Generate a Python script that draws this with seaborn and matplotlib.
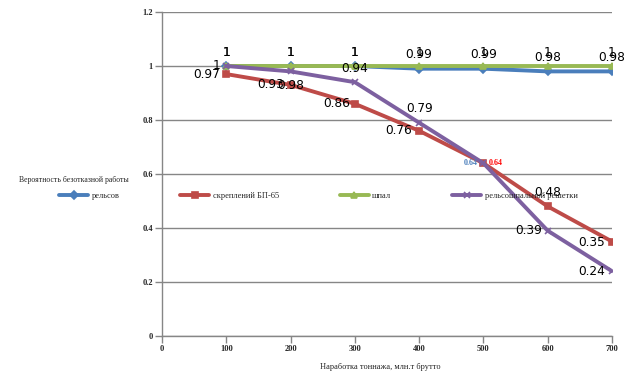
import matplotlib
matplotlib.use("Agg")
import numpy as np
import pandas as pd
import matplotlib.pyplot as plt
import seaborn as sns

# data
tonnage = [100, 200, 300, 400, 500, 600, 700]
rails = [1, 1, 1, 0.99, 0.99, 0.98, 0.98]
fasteners = [0.97, 0.93, 0.86, 0.76, 0.64, 0.48, 0.35]
sleepers = [1, 1, 1, 1, 1, 1, 1]
track = [1, 0.98, 0.94, 0.79, 0.64, 0.39, 0.24]

series_names = ["рельсов", "скреплений БП-65", "шпал", "рельсошпальной решетки"]
series_values = [rails, fasteners, sleepers, track]
colors = ["#4A7EBB", "#BE4B48", "#98B954", "#7D60A0"]
marker_styles = ["D", "s", "^", "x"]

x_ticks = [0, 100, 200, 300, 400, 500, 600, 700]
y_ticks = [0, 0.2, 0.4, 0.6, 0.8, 1, 1.2]
y_tick_labels = ["0", "0.2", "0.4", "0.6", "0.8", "1", "1.2"]

sns.set_style("white")
plt.rcParams['font.family'] = ['DejaVu Sans']

fig = plt.figure(figsize=(6.31, 3.92), dpi=100)
ax = fig.add_axes([162 / 631, 1 - 336 / 392, 450 / 631, 324 / 392])

for name, vals, col, mk in zip(series_names, series_values, colors, marker_styles):
    df = pd.DataFrame({"x": tonnage, "y": vals})
    sns.lineplot(data=df, x="x", y="y", color=col, marker=mk, label=name,
                 linewidth=2.8, markersize=4.2, markeredgewidth=1.2,
                 markeredgecolor=col, ax=ax)

handles, labels = ax.get_legend_handles_labels()
ax.get_legend().remove()

ax.set_xlim(0, 700)
ax.set_ylim(0, 1.2)
ax.set_xticks(x_ticks)
ax.set_yticks(y_ticks)
ax.set_yticklabels(y_tick_labels)
ax.set_xlabel("")
ax.set_ylabel("")
ax.yaxis.grid(True, color="#868686", linewidth=1)
ax.set_axisbelow(True)
for side in ["top", "right"]:
    ax.spines[side].set_visible(False)
for side in ["left", "bottom"]:
    ax.spines[side].set_color("#868686")
    ax.spines[side].set_linewidth(1)
ax.tick_params(axis="both", length=5, width=1, color="#868686", pad=1.5,
               direction="out", left=True, bottom=True)
for lbl in ax.get_xticklabels() + ax.get_yticklabels():
    lbl.set_fontfamily("Liberation Serif")
    lbl.set_fontsize(6)
    lbl.set_fontweight("bold")

# data labels: (dx, dy, ha) in points for every point of each series
label_offsets = {
    "рельсов": [(0, 10, "center")] * 7,
    "скреплений БП-65": [(-4.5, -0.5, "right"), (-5, 0, "right"), (-3.5, 0, "right"),
                         (-5, 0, "right"), None, (0, 10, "center"), (-5, -1, "right")],
    "шпал": [(0, 10, "center")] * 7,
    "рельсошпальной решетки": [(-4, 0, "right"), (0, -10, "center"), (0, 10, "center"),
                               (0, 10.5, "center"), None, (-4, 0, "right"), (-5, 0, "right")],
}
for name, vals in zip(series_names, series_values):
    for xv, yv, off in zip(tonnage, vals, label_offsets[name]):
        if off is None:
            continue
        ax.annotate(f"{yv:g}", (xv, yv), xytext=(off[0], off[1]),
                    textcoords="offset points", ha=off[2], va="center",
                    fontsize=8.7, color="black")

# the two small labels at the crossing point
ax.annotate(f"{track[4]:g}", (tonnage[4], track[4]), xytext=(-4.3, 0),
            textcoords="offset points", ha="right", va="center",
            fontsize=5.8, color="#4A7EBB", fontweight="bold",
            fontfamily="Liberation Serif")
ax.annotate(f"{fasteners[4]:g}", (tonnage[4], fasteners[4]), xytext=(4, 0),
            textcoords="offset points", ha="left", va="center",
            fontsize=5.8, color="red", fontweight="bold",
            fontfamily="Liberation Serif")

fig.legend(handles, labels, loc="center left", bbox_to_anchor=(59 / 631, 1 - 196 / 392),
           ncol=4, frameon=False, borderaxespad=0, borderpad=0,
           handlelength=3.5, handletextpad=0.4, columnspacing=7.3,
           prop={"family": "Liberation Serif", "size": 6})

fig.text(19 / 631, 1 - 180 / 392, "Вероятность безотказной работы",
         ha="left", va="center", fontsize=5.6, fontfamily="Liberation Serif")
fig.text(380 / 631, 1 - 367 / 392, "Наработка тоннажа, млн.т брутто",
         ha="center", va="center", fontsize=6, fontfamily="Liberation Serif")

fig.savefig("out.png", dpi=100)
